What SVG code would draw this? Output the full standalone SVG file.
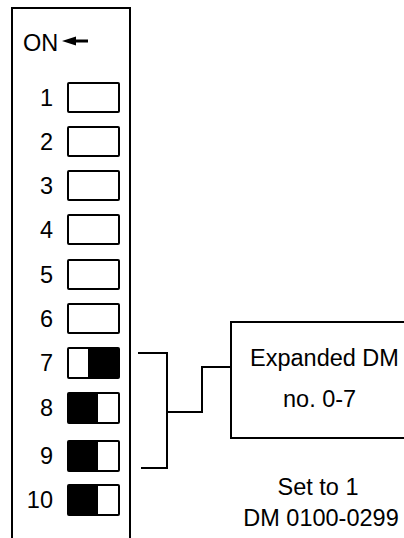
<svg xmlns="http://www.w3.org/2000/svg" width="404" height="538" viewBox="0 0 404 538">
<style>
.t{font-family:"Liberation Sans",Arial,sans-serif;font-size:23.5px;fill:#000}
.n{text-anchor:end}
.sw{fill:#fff;stroke:#000;stroke-width:2}
.k{fill:#000}
.ln{fill:none;stroke:#000;stroke-width:2}
</style>
<rect width="404" height="538" fill="#fff"/>
<g id="panel">
<path class="ln" d="M12,538 V8 H130 V538"/>
<text class="t" x="23" y="51">ON</text>
<path d="M62,41 L76,36.5 L76,39.5 L88,39.5 L88,42.5 L76,42.5 L76,45.5 Z" fill="#000"/>
</g>
<g id="sw1"><rect class="sw" x="68" y="83" width="51" height="29" rx="1"/><text class="t n" x="53" y="106">1</text></g>
<g id="sw2"><rect class="sw" x="68" y="127" width="51" height="29" rx="1"/><text class="t n" x="53" y="150">2</text></g>
<g id="sw3"><rect class="sw" x="68" y="171" width="51" height="29" rx="1"/><text class="t n" x="53" y="194">3</text></g>
<g id="sw4"><rect class="sw" x="68" y="215" width="51" height="29" rx="1"/><text class="t n" x="53" y="238">4</text></g>
<g id="sw5"><rect class="sw" x="68" y="260" width="51" height="29" rx="1"/><text class="t n" x="53" y="283">5</text></g>
<g id="sw6"><rect class="sw" x="68" y="304" width="51" height="29" rx="1"/><text class="t n" x="53" y="327">6</text></g>
<g id="sw7"><rect class="sw" x="68" y="348" width="51" height="30" rx="1"/><rect class="k" x="88" y="348" width="31" height="30"/><text class="t n" x="53" y="371">7</text></g>
<g id="sw8"><rect class="sw" x="68" y="393" width="51" height="30" rx="1"/><rect class="k" x="68" y="393" width="30" height="30"/><text class="t n" x="53" y="416">8</text></g>
<g id="sw9"><rect class="sw" x="68" y="441" width="51" height="30" rx="1"/><rect class="k" x="68" y="441" width="30" height="30"/><text class="t n" x="53" y="464">9</text></g>
<g id="sw10"><rect class="sw" x="68" y="485" width="51" height="30" rx="1"/><rect class="k" x="68" y="485" width="30" height="30"/><text class="t n" x="53" y="508">10</text></g>
<g id="connectors">
<path class="ln" d="M138,353 H167 V468 H141"/>
<path class="ln" d="M167,412 H202 V367 H230"/>
</g>
<g id="box">
<rect class="ln" x="231" y="322" width="180" height="116"/>
<text class="t" x="250" y="366">Expanded DM</text>
<text class="t" x="283" y="407">no. 0-7</text>
</g>
<g id="note">
<text class="t" x="318" y="495" text-anchor="middle">Set to 1</text>
<text class="t" x="321" y="526" text-anchor="middle">DM 0100-0299</text>
</g>
</svg>
